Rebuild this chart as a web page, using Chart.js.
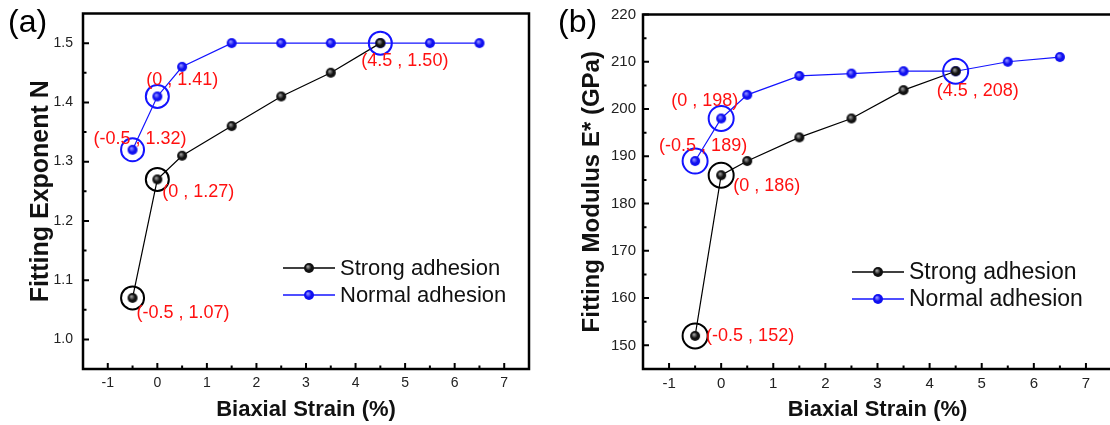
<!DOCTYPE html>
<html>
<head>
<meta charset="utf-8">
<script src="https://cdn.jsdelivr.net/npm/chart.js@4.4.0/dist/chart.umd.min.js"></script>
<style>
  html, body { margin: 0; padding: 0; background: #fff; overflow: hidden; }
  body { width: 1110px; height: 425px; position: relative; }
  #wrapA { position: absolute; left: 0; top: 0; width: 555px; height: 425px; }
  #wrapB { position: absolute; left: 555px; top: 0; width: 575px; height: 425px; }
</style>
</head>
<body>
<div id="wrapA"><canvas id="chartA" width="555" height="425"></canvas></div>
<div id="wrapB"><canvas id="chartB" width="575" height="425"></canvas></div>
<script>
// biaxial strain (%)
const strainStrong = [-0.5, 0, 0.5, 1.5, 2.5, 3.5, 4.5];
const strainNormal = [-0.5, 0, 0.5, 1.5, 2.5, 3.5, 4.5, 5.5, 6.5];

// (a) fitting exponent N
const exponentStrong = [1.07, 1.27, 1.31, 1.36, 1.41, 1.45, 1.50];
const exponentNormal = [1.32, 1.41, 1.46, 1.50, 1.50, 1.50, 1.50, 1.50, 1.50];

// (b) fitting modulus E* (GPa)
const modulusStrong = [152, 186, 189, 194, 198, 204, 208];
const modulusNormal = [189, 198, 203, 207, 207.5, 208, 208, 210, 211];

// circled (labelled) points, by strain
const markedStrong = [-0.5, 0];
const markedNormal = [-0.5, 0, 4.5];

// tick labels
const strainTicks = [-1, 0, 1, 2, 3, 4, 5, 6, 7];
const exponentTicks = [1.0, 1.1, 1.2, 1.3, 1.4, 1.5];
const modulusTicks = [150, 160, 170, 180, 190, 200, 210, 220];

const FONT = "'Liberation Sans', Arial, sans-serif";
const BLUE = '#1414ff';

function toPoints(xs, ys) {
    return xs.map((x, i) => ({ x: x, y: ys[i] }));
}

function marked(xs, allX, allY) {
    return xs.map(x => ({ x: x, y: allY[allX.indexOf(x)] }));
}

function makeBall(r, base, light) {
    const c = document.createElement('canvas');
    const s = Math.ceil(r * 2) + 2;
    c.width = s; c.height = s;
    const g = c.getContext('2d');
    const cx = s / 2, cy = s / 2;
    const grad = g.createRadialGradient(cx - r * 0.25, cy - r * 0.3, r * 0.1, cx, cy, r);
    grad.addColorStop(0, light);
    grad.addColorStop(0.55, base);
    grad.addColorStop(1, base);
    g.fillStyle = grad;
    g.beginPath();
    g.arc(cx, cy, r, 0, Math.PI * 2);
    g.fill();
    return c;
}

const ballBlack = makeBall(5, '#111', '#9a9a9a');
const ballBlue = makeBall(5, '#1010f0', '#8c8cff');

// frame, inward ticks, red labels, legend and panel letter
function decorPlugin(o) {
    return {
        id: 'decor',
        afterDraw(chart) {
            const ctx = chart.ctx;
            const a = chart.chartArea;
            const xs = chart.scales.x, ys = chart.scales.y;
            ctx.save();

            // ticks pointing inward
            ctx.strokeStyle = '#000';
            ctx.lineWidth = 2;
            const xt = xs.ticks.map(t => t.value);
            const yt = ys.ticks.map(t => t.value);
            ctx.beginPath();
            xt.forEach((v, i) => {
                const px = xs.getPixelForValue(v);
                ctx.moveTo(px, a.bottom); ctx.lineTo(px, a.bottom - 6);
                if (i < xt.length - 1) {
                    const mx = xs.getPixelForValue((v + xt[i + 1]) / 2);
                    ctx.moveTo(mx, a.bottom); ctx.lineTo(mx, a.bottom - 3.5);
                }
            });
            yt.forEach((v, i) => {
                const py = ys.getPixelForValue(v);
                ctx.moveTo(a.left, py); ctx.lineTo(a.left + 6, py);
                if (i < yt.length - 1) {
                    const my = ys.getPixelForValue((v + yt[i + 1]) / 2);
                    ctx.moveTo(a.left, my); ctx.lineTo(a.left + 3.5, my);
                }
            });
            ctx.stroke();

            // frame
            ctx.lineWidth = 2.5;
            ctx.strokeRect(a.left, a.top, a.right - a.left, a.bottom - a.top);

            // red point labels
            ctx.fillStyle = '#ff1010';
            ctx.font = '18px ' + FONT;
            ctx.textAlign = 'left';
            ctx.textBaseline = 'middle';
            o.labels.forEach((p, i) => {
                const off = o.labelOffsets[i];
                const px = xs.getPixelForValue(p.x) + off[0];
                const py = ys.getPixelForValue(p.y) + off[1];
                ctx.fillText(o.format(p), px, py);
            });

            // legend
            const lx = a.left + o.legendAt[0];
            let ly = o.legendAt[1];
            ctx.font = o.legendSize + 'px ' + FONT;
            ctx.fillStyle = '#111';
            chart.data.datasets.filter(d => d.inLegend).forEach(d => {
                ctx.strokeStyle = d.borderColor;
                ctx.lineWidth = 1.3;
                ctx.beginPath();
                ctx.moveTo(lx, ly); ctx.lineTo(lx + 52, ly);
                ctx.stroke();
                const img = d.pointStyle;
                ctx.drawImage(img, lx + 26 - img.width / 2, ly - img.height / 2);
                ctx.fillText(d.label, lx + 57, ly + 1);
                ly += 27;
            });

            // panel letter
            ctx.font = '32px ' + FONT;
            ctx.fillStyle = '#000';
            ctx.fillText(o.letter, o.letterAt[0], o.letterAt[1]);
            ctx.restore();
        }
    };
}

function buildChart(id, o) {
    return new Chart(document.getElementById(id), {
        type: 'line',
        data: {
            datasets: [
                { label: 'markStrong', data: o.markStrong, showLine: false, pointStyle: 'circle',
                  pointRadius: o.ringR, pointBorderWidth: 2, pointBorderColor: '#000',
                  pointBackgroundColor: 'rgba(0,0,0,0)' },
                { label: 'markNormal', data: o.markNormal, showLine: false, pointStyle: 'circle',
                  pointRadius: o.ringR, pointBorderWidth: 2, pointBorderColor: BLUE,
                  pointBackgroundColor: 'rgba(0,0,0,0)' },
                { label: 'Strong adhesion', data: o.strong, borderColor: '#000', borderWidth: 1.2,
                  pointStyle: ballBlack, pointRadius: 5, inLegend: true },
                { label: 'Normal adhesion', data: o.normal, borderColor: BLUE, borderWidth: 1.2,
                  pointStyle: ballBlue, pointRadius: 5, inLegend: true }
            ]
        },
        options: {
            responsive: false,
            animation: false,
            devicePixelRatio: 1,
            events: [],
            layout: { padding: { top: 10, right: o.padRight, left: 0, bottom: 0 } },
            plugins: {
                legend: { display: false },
                tooltip: { enabled: false }
            },
            scales: {
                x: {
                    type: 'linear', min: -1.5, max: 7.5,
                    grid: { display: false, drawTicks: false },
                    border: { display: false },
                    afterBuildTicks: s => { s.ticks = strainTicks.map(v => ({ value: v })); },
                    afterFit: s => { s.height = 56; s.paddingLeft = 0; s.paddingRight = 0; },
                    ticks: { padding: 6, color: '#222', autoSkip: false, maxRotation: 0,
                             font: { family: FONT, size: o.tickSize }, callback: v => String(v) },
                    title: { display: true, text: 'Biaxial Strain (%)', color: '#111',
                             font: { family: FONT, size: 22, weight: 'bold' },
                             padding: { top: 0, bottom: 2 } }
                },
                y: {
                    type: 'linear', min: o.yMin, max: o.yMax,
                    grid: { display: false, drawTicks: false },
                    border: { display: false },
                    afterBuildTicks: s => { s.ticks = o.yTicks.map(v => ({ value: v })); },
                    afterFit: s => { s.width = o.yWidth; s.paddingTop = 0; s.paddingBottom = 0; },
                    ticks: { padding: o.yPad, color: '#222', autoSkip: false,
                             font: { family: FONT, size: o.tickSize }, callback: o.yFormat },
                    title: { display: true, text: o.yTitle, color: '#111',
                             font: { family: FONT, size: o.yTitleSize, weight: 'bold' },
                             padding: { top: o.yTitlePad, bottom: 0 } }
                }
            }
        },
        plugins: [decorPlugin(o)]
    });
}

const markStrongA = marked(markedStrong, strainStrong, exponentStrong);
const markNormalA = marked(markedNormal, strainNormal, exponentNormal);
buildChart('chartA', {
    strong: toPoints(strainStrong, exponentStrong),
    normal: toPoints(strainNormal, exponentNormal),
    markStrong: markStrongA,
    markNormal: markNormalA,
    ringR: 11.5,
    yMin: 0.95, yMax: 1.55, yTicks: exponentTicks,
    yFormat: v => v.toFixed(1),
    yWidth: 83, yPad: 10, yTitlePad: 26, padRight: 26,
    yTitle: 'Fitting Exponent N', yTitleSize: 25, tickSize: 14,
    labels: markStrongA.concat(markNormalA),
    labelOffsets: [[4, 15], [5, 13], [-39, -11], [-11, -16], [-19, 18]],
    format: p => '(' + p.x + ' , ' + p.y.toFixed(2) + ')',
    legendAt: [200, 268], legendSize: 22,
    letter: '(a)', letterAt: [8, 23]
});

const markStrongB = marked(markedStrong, strainStrong, modulusStrong);
const markNormalB = marked(markedNormal, strainNormal, modulusNormal);
buildChart('chartB', {
    strong: toPoints(strainStrong, modulusStrong),
    normal: toPoints(strainNormal, modulusNormal),
    markStrong: markStrongB,
    markNormal: markNormalB,
    ringR: 12.5,
    yMin: 145, yMax: 220, yTicks: modulusTicks,
    yFormat: v => String(v),
    yWidth: 88, yPad: 7, yTitlePad: 23, padRight: 18,
    yTitle: 'Fitting Modulus E* (GPa)', yTitleSize: 24, tickSize: 15,
    labels: markStrongB.concat(markNormalB),
    labelOffsets: [[11, 0], [12, 11], [-36, -15], [-50, -17], [-19, 20]],
    format: p => '(' + p.x + ' , ' + p.y + ')',
    legendAt: [209, 272], legendSize: 23,
    letter: '(b)', letterAt: [3, 23]
});
</script>
</body>
</html>
